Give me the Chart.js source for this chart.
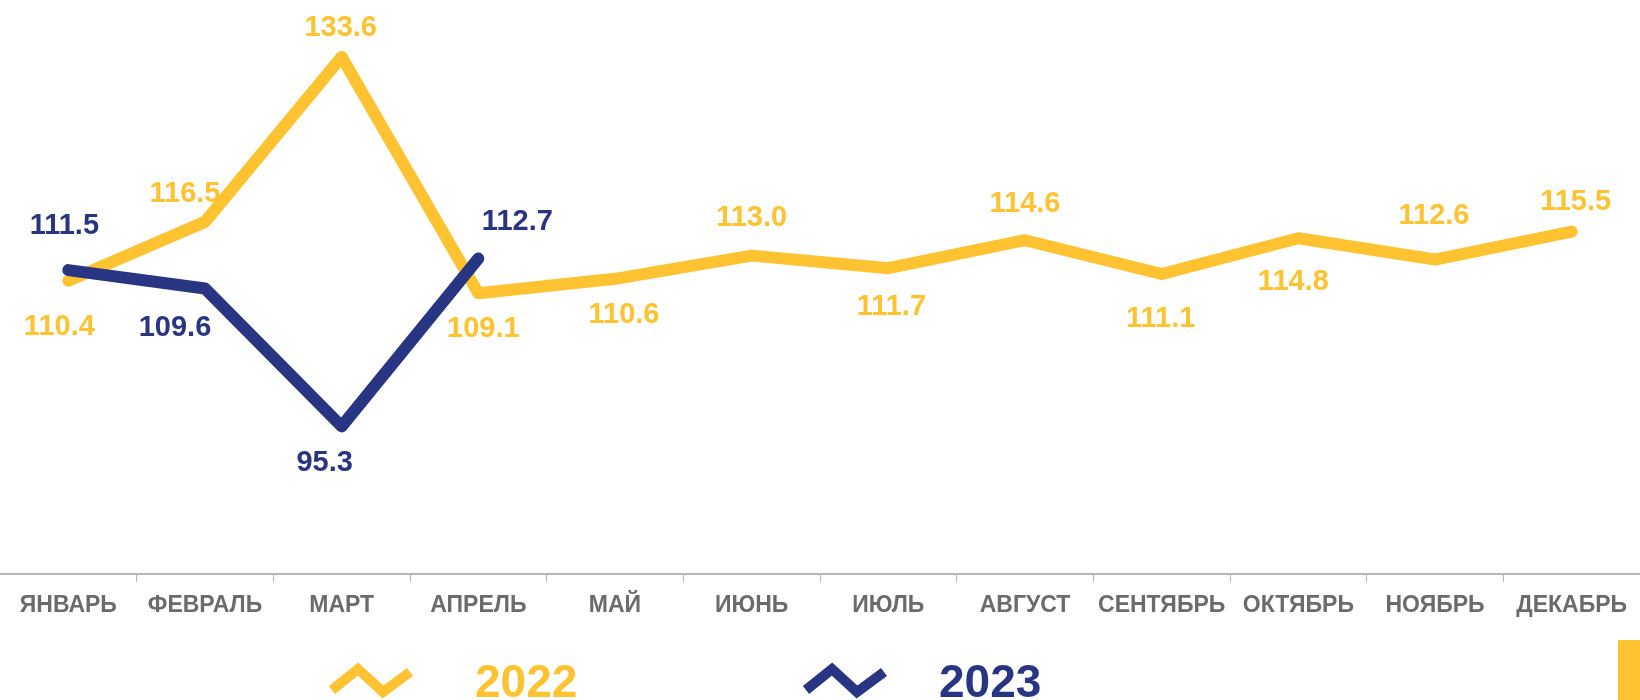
<!DOCTYPE html>
<html>
<head>
<meta charset="utf-8">
<script src="https://cdn.jsdelivr.net/npm/chart.js@4"></script>
<style>
html,body{margin:0;padding:0;background:#fff;}
#wrap{position:relative;width:1640px;height:700px;overflow:hidden;}
</style>
</head>
<body>
<div id="wrap"><canvas id="c"></canvas></div>
<script>
const months = ['ЯНВАРЬ','ФЕВРАЛЬ','МАРТ','АПРЕЛЬ','МАЙ','ИЮНЬ','ИЮЛЬ','АВГУСТ','СЕНТЯБРЬ','ОКТЯБРЬ','НОЯБРЬ','ДЕКАБРЬ'];
const seriesNames = ['2022','2023'];
const values2022 = [110.4,116.5,133.6,109.1,110.6,113.0,111.7,114.6,111.1,114.8,112.6,115.5];
const values2023 = [111.5,109.6,95.3,112.7];

const YELLOW = '#FFC230';
const BLUE = '#283583';

// label offsets (dx, dy) from the point, in px
const labelOffsets = [
  [[-9,45],[-20,-29],[-1,-30],[5,35],[9,35],[0,-39],[3,38],[0,-37],[-1,44],[-5,43],[-1,-45],[4,-31]],
  [[-4,-45],[-30,39],[-17,36],[39,-38]]
];

const valueLabels = {
  id:'valueLabels',
  afterDatasetsDraw(chart){
    const ctx = chart.ctx;
    ctx.save();
    ctx.font = 'bold 29px "Liberation Sans", Arial, sans-serif';
    ctx.textAlign = 'center';
    ctx.textBaseline = 'middle';
    chart.data.datasets.forEach((ds, di) => {
      const meta = chart.getDatasetMeta(di);
      ctx.fillStyle = ds.borderColor;
      meta.data.forEach((pt, i) => {
        const off = labelOffsets[di][i];
        ctx.fillText(ds.data[i].toFixed(1), pt.x + off[0], pt.y + off[1] + 1);
      });
    });
    ctx.restore();
  }
};

const legendPos = [
  {icon:[[332,690],[358,669],[383,692],[410,672]], textX:475},
  {icon:[[806,690],[832,669],[857,692],[884,672]], textX:939}
];

const customLegend = {
  id:'customLegend',
  afterDraw(chart){
    const ctx = chart.ctx;
    ctx.save();
    chart.data.datasets.forEach((ds, di) => {
      const p = legendPos[di];
      ctx.strokeStyle = ds.borderColor;
      ctx.lineWidth = 10;
      ctx.lineJoin = 'miter';
      ctx.lineCap = 'butt';
      ctx.beginPath();
      p.icon.forEach((q, k) => k ? ctx.lineTo(q[0], q[1]) : ctx.moveTo(q[0], q[1]));
      ctx.stroke();
      ctx.fillStyle = ds.borderColor;
      ctx.font = 'bold 46px "Liberation Sans", Arial, sans-serif';
      ctx.textAlign = 'left';
      ctx.textBaseline = 'alphabetic';
      ctx.fillText(ds.label, p.textX, 697);
    });
    // corner accent
    ctx.fillStyle = YELLOW;
    ctx.fillRect(1618, 640, 22, 60);
    ctx.restore();
  }
};

new Chart(document.getElementById('c'), {
  type:'line',
  data:{
    labels: months,
    datasets:[
      {label:seriesNames[0], data:values2022, borderColor:YELLOW, backgroundColor:YELLOW, borderWidth:12, pointRadius:0, borderCapStyle:'round', borderJoinStyle:'round', tension:0, order:1},
      {label:seriesNames[1], data:values2023, borderColor:BLUE, backgroundColor:BLUE, borderWidth:12, pointRadius:0, borderCapStyle:'round', borderJoinStyle:'round', tension:0, order:0}
    ]
  },
  options:{
    responsive:true,
    maintainAspectRatio:false,
    animation:false,
    layout:{padding:0},
    plugins:{legend:{display:false}, tooltip:{enabled:false}},
    scales:{
      x:{
        offset:true,
        grid:{offset:true, drawOnChartArea:false, drawTicks:true, tickLength:8, color:'#b5b5b5', lineWidth:1},
        border:{display:true, color:'#b5b5b5', width:2},
        ticks:{color:'#6b6b6b', font:{family:'"Liberation Sans", Arial, sans-serif', size:23, weight:'bold'}, padding:10, maxRotation:0, autoSkip:false},
        afterFit(scale){ scale.height = 126; }
      },
      y:{display:false, min:80, max:139.5}
    }
  },
  plugins:[valueLabels, customLegend]
});
</script>
</body>
</html>
